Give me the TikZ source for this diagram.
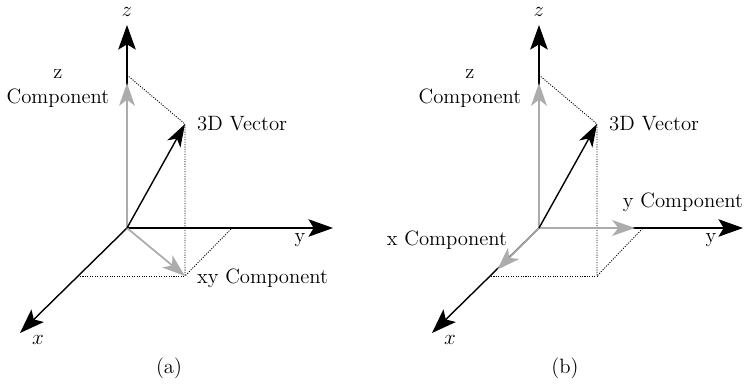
\documentclass[tikz,border=0pt]{standalone}
\usetikzlibrary{arrows.meta}
\begin{document}
\begin{tikzpicture}[x=1cm,y=1cm,
  axis/.style={draw,line width=.8pt,-{Stealth[length=14pt,width=10pt,inset=3pt]}},
  vec/.style={draw,line width=.8pt,-{Stealth[length=13pt,width=8.5pt,inset=3.5pt]}},
  comp/.style={draw,gray!65,line width=1pt,-{Stealth[length=13pt,width=9pt,inset=3.5pt]}},
  guide/.style={draw,line width=.5pt,dash pattern=on .6pt off .8pt},
  lbl/.style={inner sep=1pt,font=\fontsize{11.8}{14}\selectfont}]
  \useasboundingbox (0,0) rectangle (14.92,7.7);

  % (a) vector split into xy and z parts
  \begin{scope}[shift={(2.54,3.14)}]
    \coordinate (a-o) at (0,0);
    \coordinate (a-xend) at (-2.14,-2.1);
    \coordinate (a-yend) at (4.12,0);
    \coordinate (a-zend) at (0,4.06);
    \coordinate (a-xp) at (-0.94,-0.96);
    \coordinate (a-yp) at (2.1,0);
    \coordinate (a-zp) at (0,3.06);
    \coordinate (a-xy) at (1.16,-0.96);
    \coordinate (a-v) at (1.16,2.08);

    \path[axis] (a-o) -- (a-xend);
    \path[axis] (a-o) -- (a-yend);
    \path[axis] (a-o) -- (a-zend);
    \path[guide] (a-zp) -- (a-v) -- (a-xy) -- (a-yp);
    \path[guide] (a-xp) -- (a-xy);
    \path[comp,shorten >=0.16cm] (a-o) -- (a-zp);
    \path[comp] (a-o) -- (a-xy);
    \path[vec] (a-o) -- (a-v);

    \node[lbl] (a-xlbl) at (-1.78,-2.24) {$x$};
    \node[lbl] (a-ylbl) at (3.46,-0.24) {y};
    \node[lbl] (a-zlbl) at (0,4.32) {$z$};
    \node[lbl,align=center] (a-zcomp) at (-1.38,2.79) {z\\Component};
    \node[lbl,anchor=west] (a-vlbl) at ([xshift=0.2cm]a-v) {3D Vector};
    \node[lbl,anchor=west] (a-xylbl) at ([xshift=0.2cm,yshift=-0.04cm]a-xy) {xy Component};
  \end{scope}
  \node[lbl] (a-cap) at (3.38,0.34) {(a)};

  % (b) vector split into x, y and z parts
  \begin{scope}[shift={(10.78,3.14)}]
    \coordinate (b-o) at (0,0);
    \coordinate (b-xend) at (-2.14,-2.1);
    \coordinate (b-yend) at (4.08,0);
    \coordinate (b-zend) at (0,4.06);
    \coordinate (b-xp) at (-0.96,-0.96);
    \coordinate (b-yp) at (2.08,0);
    \coordinate (b-zp) at (0,3.06);
    \coordinate (b-xy) at (1.16,-0.96);
    \coordinate (b-v) at (1.16,2.08);

    \path[axis] (b-o) -- (b-xend);
    \path[axis] (b-o) -- (b-yend);
    \path[axis] (b-o) -- (b-zend);
    \path[guide] (b-zp) -- (b-v) -- (b-xy) -- (b-yp);
    \path[guide] (b-xp) -- (b-xy);
    \path[comp,shorten >=0.16cm] (b-o) -- (b-zp);
    \path[comp,shorten >=0.16cm] (b-o) -- (b-yp);
    \path[comp,shorten >=0.18cm] (b-o) -- (b-xp);
    \path[vec] (b-o) -- (b-v);

    \node[lbl] (b-xlbl) at (-1.78,-2.24) {$x$};
    \node[lbl] (b-ylbl) at (3.44,-0.24) {y};
    \node[lbl] (b-zlbl) at (0,4.32) {$z$};
    \node[lbl,align=center] (b-zcomp) at (-1.38,2.79) {z\\Component};
    \node[lbl,anchor=west] (b-vlbl) at ([xshift=0.2cm]b-v) {3D Vector};
    \node[lbl] (b-ycomp) at (2.88,0.52) {y Component};
    \node[lbl] (b-xcomp) at (-1.84,-0.24) {x Component};
  \end{scope}
  \node[lbl] (b-cap) at (11.3,0.34) {(b)};
\end{tikzpicture}
\end{document}
